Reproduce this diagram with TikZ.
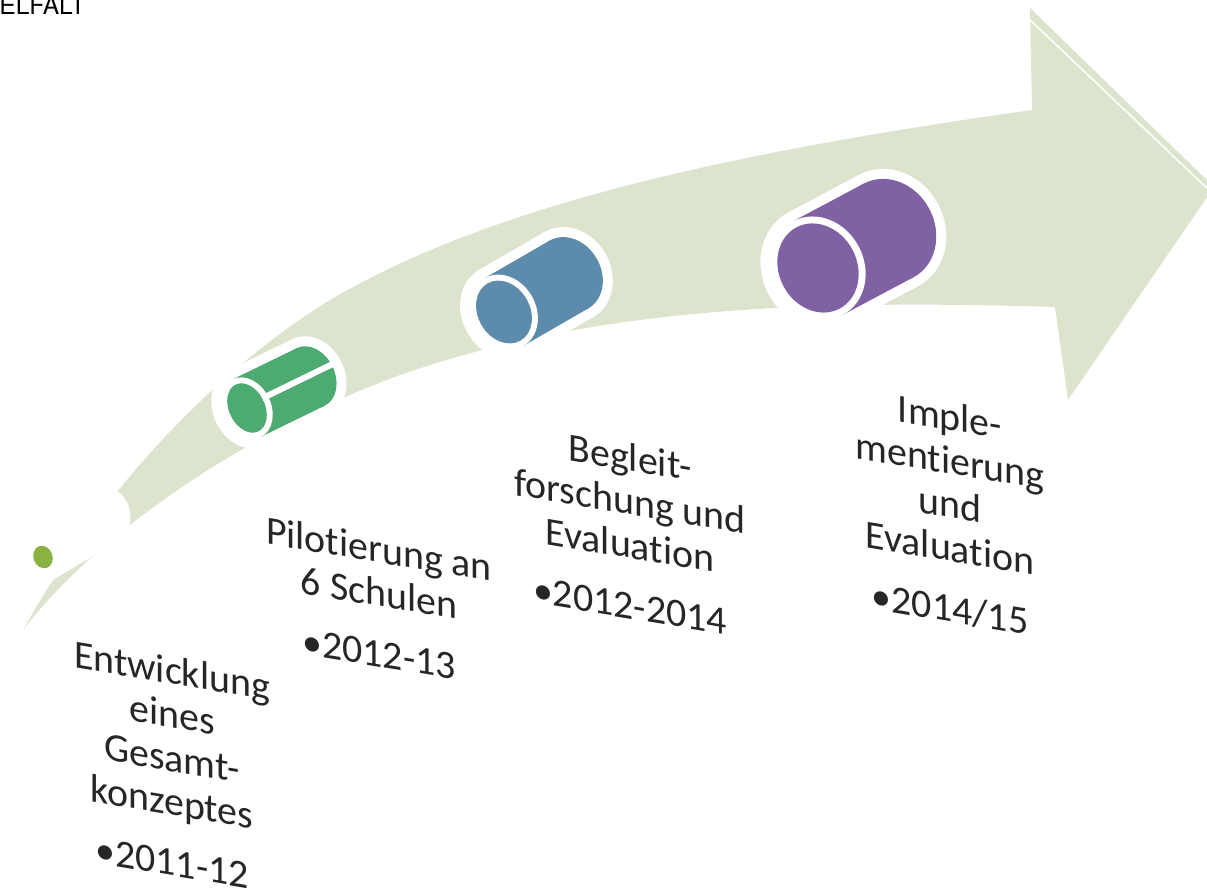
\documentclass[tikz,border=0pt]{standalone}
\usepackage{fontspec}
\setmainfont{Carlito}[Ligatures={NoCommon,NoContextual,NoRequired}]
\newfontfamily\cutfont{TeX Gyre Heros}
\usepackage{tikz}
\definecolor{arrow_sage}{RGB}{221,228,206}
\definecolor{stage_green}{RGB}{77,170,112}
\definecolor{stage_blue}{RGB}{93,139,172}
\definecolor{stage_purple}{RGB}{128,97,164}
\definecolor{dot_green}{RGB}{137,178,67}
\definecolor{label_gray}{RGB}{38,38,38}

% x, y, angle, disc radius, body radius, ring, length, colour
\newcommand{\stagecyl}[8]{%
  \begin{scope}[shift={(#1,#2)},rotate=#3]
    \filldraw[white,line width=0.4cm] (0,0) ellipse [x radius=#4+#6, y radius=#5];
    \filldraw[white,line width=0.4cm,line join=round] (0,-#5) rectangle (#7,#5);
    \filldraw[white,line width=0.4cm] (#7,0) ellipse [x radius=#4+#6, y radius=#5];
    \fill[#8] (0,-#5) rectangle (#7,#5);
    \fill[#8] (#7,0) ellipse [x radius=#4+#6, y radius=#5];
    \fill[white] (0,0) ellipse [x radius=#4+#6, y radius=#5];
    \fill[#8] (0,0) ellipse [x radius=#4, y radius=#5-#6];
  \end{scope}}

\begin{document}
\begin{tikzpicture}[x=0.02cm,y=-0.02cm]
    \tikzstyle{stagetext}=[font=\fontsize{22.7}{24.9}\selectfont, text=label_gray, align=center, inner sep=0pt, yslant=-0.167]
    \useasboundingbox (0,0) rectangle (1207,895);

    % the rising arrow
    \fill[arrow_sage] (23,630) .. controls (90,510) and (200,380) .. (330,300)
        .. controls (500,200) and (750,150) .. (1032,110) -- (1030,8) -- (1214,187)
        -- (1068,400) -- (1055,307) .. controls (820,300) and (600,305) .. (400,375)
        .. controls (250,430) and (100,530) .. (23,630) -- cycle;
    \draw[white,line width=0.03cm] (1028,18) -- (1210,191);
    % gap in the tail
    \fill[white] (10,592) -- (46,584) -- (140,528) -- (129,527)
        .. controls (134,508) and (125,489) .. (103,486) -- (70,470) -- cycle;
    \fill[dot_green, rotate around={20:(43,557)}] (43,557) ellipse [x radius=9.5, y radius=11.5];

    % stages
    \stagecyl{247}{408}{26}{18}{32}{6}{71}{stage_green}
    \begin{scope}[shift={(247,408)},rotate=26]
        \draw[white,line width=0.12cm] (18,-2) -- (100,-2);
    \end{scope}
    \stagecyl{504}{312}{30}{26}{39}{6}{75}{stage_blue}
    \stagecyl{818}{268}{28}{39}{53}{7}{80}{stage_purple}

    \node[stagetext] (entw)  at (172,766) {Entwicklung\\eines\\Gesamt-\\konzeptes\\[9.6pt]•2011-12};
    \node[stagetext] (pilot) at (379,601) {Pilotierung an\\6 Schulen\\[9.6pt]•2012-13};
    \node[stagetext] (begl)  at (630,531) {Begleit-\\forschung und\\Evaluation\\[9.6pt]•2012-2014};
    \node[stagetext] (impl)  at (950,513) {Imple-\\mentierung\\und\\Evaluation\\[9.6pt]•2014/15};

    \node[font=\cutfont\fontsize{14}{16}\selectfont, anchor=base west, inner sep=0pt] (cut) at (-1,15) {ELFALT};
\end{tikzpicture}
\end{document}
